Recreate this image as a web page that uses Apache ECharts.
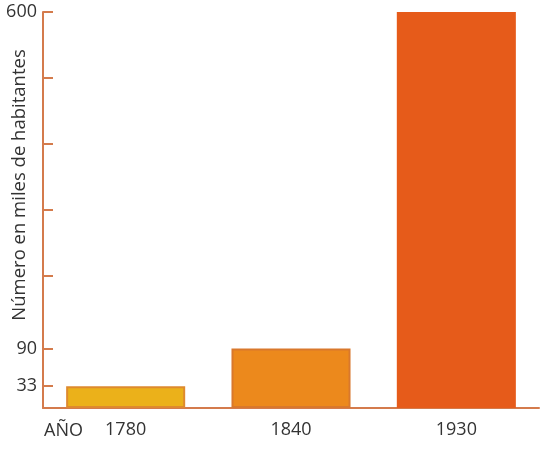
<!DOCTYPE html>
<html>
<head>
<meta charset="utf-8">
<script src="https://cdn.jsdelivr.net/npm/echarts@6/dist/echarts.min.js"></script>
<style>
  html, body { margin: 0; padding: 0; background: #fff; }
  #chart { width: 545px; height: 465px; }
</style>
</head>
<body>
<div id="chart"></div>
<script>
// datos
var years = ['1780', '1840', '1930'];
var habitantes = [33, 90, 600];
var barColors = ['#EBB11A', '#EC891C', '#E65B1A'];
var barBorders = ['#DE8A2E', '#D9782C', '#E65B1A'];
var yTicks = [33, 90, 200, 300, 400, 500, 600];
var yLabels = [33, 90, 600];

var axisColor = '#D47B4C';
var textColor = '#333';
var font = '"Open Sans", "Noto Sans", sans-serif';

var chart = echarts.init(document.getElementById('chart'));

var option = {
    animation: false,
    grid: { left: 43, right: 6, top: 12, bottom: 57 },
    xAxis: {
        type: 'category',
        data: years,
        boundaryGap: true,
        axisLine: { lineStyle: { color: axisColor, width: 2 } },
        axisTick: { inside: true, length: 6, lineStyle: { color: axisColor, width: 2 } },
        axisLabel: { color: textColor, fontSize: 18, fontFamily: font, margin: 13 }
    },
    yAxis: {
        type: 'value',
        min: 0,
        max: 600,
        splitLine: { show: false },
        axisLine: { show: true, lineStyle: { color: axisColor, width: 2 } },
        axisTick: { show: true, inside: true, length: 10, customValues: yTicks, lineStyle: { color: axisColor, width: 2 } },
        axisLabel: { color: textColor, fontSize: 18, fontFamily: font, margin: 6, customValues: yLabels }
    },
    graphic: [
        {
            type: 'text',
            x: 20, y: 185,
            rotation: Math.PI / 2,
            style: {
                text: 'Número en miles de habitantes',
                fill: textColor, fontSize: 18.5, fontFamily: font,
                align: 'center', verticalAlign: 'middle'
            }
        },
        {
            type: 'text',
            x: 44, y: 431,
            style: {
                text: 'AÑO',
                fill: textColor, fontSize: 18, fontFamily: font,
                align: 'left', verticalAlign: 'middle'
            }
        }
    ],
    series: [{
        type: 'bar',
        barCategoryGap: '28%',
        data: habitantes.map(function (v, i) {
            return {
                value: v,
                itemStyle: { color: barColors[i], borderColor: barBorders[i], borderWidth: 2 }
            };
        })
    }]
};

chart.setOption(option);
</script>
</body>
</html>
